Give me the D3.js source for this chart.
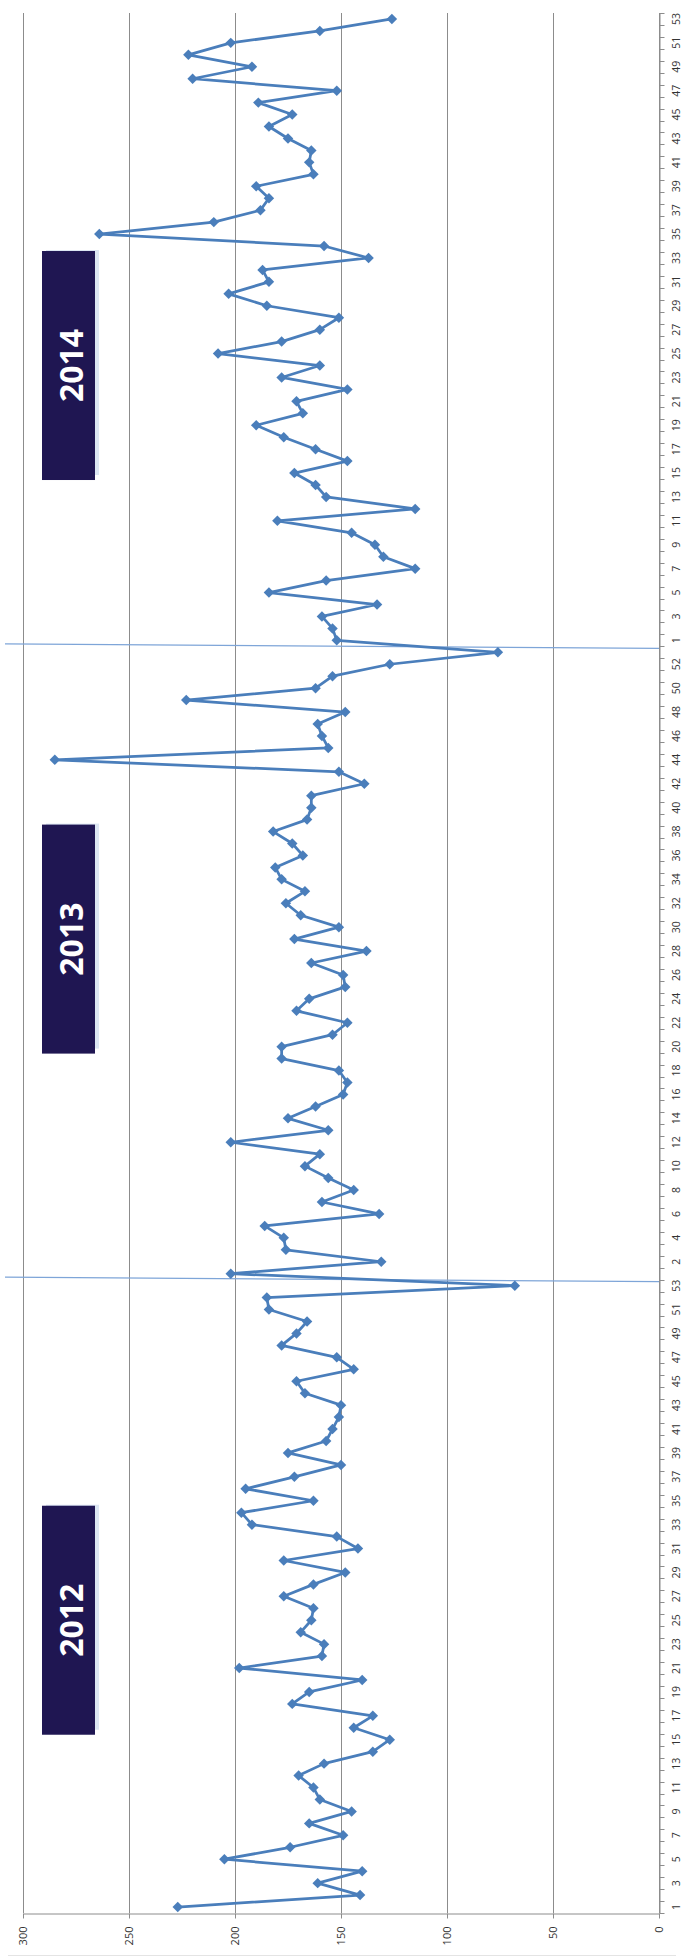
<!DOCTYPE html>
<html>
<head>
<meta charset="utf-8">
<script src="https://cdn.jsdelivr.net/npm/d3@7"></script>
<style>
  html, body { margin: 0; padding: 0; background: #ffffff; }
  svg { display: block; }
</style>
</head>
<body>
<div id="chart-container"></div>
<script>
// week numbers used on the category axis (every year has 53 weeks here)
const weekLabels = [
  1, 2, 3, 4, 5, 6, 7, 8, 9, 10, 11, 12, 13, 14, 15, 16, 17, 18, 19, 20,
  21, 22, 23, 24, 25, 26, 27, 28, 29, 30, 31, 32, 33, 34, 35, 36, 37, 38, 39, 40,
  41, 42, 43, 44, 45, 46, 47, 48, 49, 50, 51, 52, 53
];
const years = ["2012", "2013", "2014"];

const values2012 = [
  227, 141, 161, 140, 205, 174, 149, 165, 145, 160, 163, 170, 158, 135, 127, 144, 135, 173, 165, 140,
  198, 159, 158, 169, 164, 163, 177, 163, 148, 177, 142, 152, 192, 197, 163, 195, 172, 150, 175, 157,
  154, 151, 150, 167, 171, 144, 152, 178, 171, 166, 184, 185, 68
];
const values2013 = [
  202, 131, 176, 177, 186, 132, 159, 144, 156, 167, 160, 202, 156, 175, 162, 149, 147, 151, 178, 178,
  154, 147, 171, 165, 148, 149, 164, 138, 172, 151, 169, 176, 167, 178, 181, 168, 173, 182, 166, 164,
  164, 139, 151, 285, 156, 159, 161, 148, 223, 162, 154, 127, 76
];
const values2014 = [
  152, 154, 159, 133, 184, 157, 115, 130, 134, 145, 180, 115, 157, 162, 172, 147, 162, 177, 190, 168,
  171, 147, 178, 160, 208, 178, 160, 151, 185, 203, 184, 187, 137, 158, 264, 210, 188, 184, 190, 163,
  165, 164, 175, 184, 173, 189, 152, 220, 192, 222, 202, 160, 126
];
const valueTicks = [0, 50, 100, 150, 200, 250, 300];
// week of each year that the year label box is centred on
const yearLabelWeek = [25, 29, 24];

const seriesByYear = [values2012, values2013, values2014];
const rows = [];
years.forEach((yr, yi) => {
  seriesByYear[yi].forEach((v, i) => {
    rows.push({ id: yr + "-" + weekLabels[i], year: yr, week: weekLabels[i], value: v });
  });
});

const width = 684;
const height = 1957;
const plot = { left: 23, right: 659, top: 13, bottom: 1913 };
const blue = "#4a7ebb";
const gridColor = "#8c8c8c";

const svg = d3
  .select("#chart-container")
  .append("svg")
  .attr("width", width)
  .attr("height", height);

// chart is drawn turned on its side: values run right-to-left, weeks bottom-to-top
const x = d3.scaleLinear().domain([0, 300]).range([plot.right, plot.left]);
const y = d3
  .scaleBand()
  .domain(rows.map((d) => d.id))
  .range([plot.bottom, plot.top]);
const bw = y.bandwidth();
const cy = (id) => y(id) + bw / 2;

// faint chart border at the bottom
svg
  .append("line")
  .attr("x1", 8)
  .attr("x2", 676)
  .attr("y1", height - 1.5)
  .attr("y2", height - 1.5)
  .style("stroke", "#e4e4e4")
  .style("stroke-width", 1);

// gridlines
svg
  .append("g")
  .selectAll("line")
  .data(valueTicks)
  .enter()
  .append("line")
  .attr("x1", (d) => Math.round(x(d)) + 0.5)
  .attr("x2", (d) => Math.round(x(d)) + 0.5)
  .attr("y1", plot.top)
  .attr("y2", plot.bottom)
  .style("stroke", gridColor)
  .style("stroke-width", 1);

// value axis (bottom)
const xAxis = svg
  .append("g")
  .attr("transform", `translate(0, ${plot.bottom + 0.5})`)
  .call(d3.axisBottom(x).tickValues(valueTicks).tickSize(5).tickSizeOuter(0).tickFormat(d3.format("d")));
xAxis.select(".domain").style("stroke", gridColor);
xAxis.selectAll(".tick line").style("stroke", gridColor);
xAxis
  .selectAll(".tick text")
  .attr("x", -13)
  .attr("y", 0)
  .attr("dy", "0.35em")
  .attr("transform", "rotate(-90)")
  .style("text-anchor", "end")
  .style("font-family", "'Open Sans', sans-serif")
  .style("font-size", "11px")
  .style("fill", "#333");

// category axis (right)
const yAxis = svg
  .append("g")
  .attr("transform", `translate(${plot.right + 0.5}, 0)`)
  .call(
    d3
      .axisRight(y)
      .tickSize(0)
      .tickSizeOuter(0)
      .tickFormat((d, i) => (i % 2 === 0 ? String(rows[i].week) : ""))
  );
yAxis.select(".domain").style("stroke", gridColor);
yAxis
  .selectAll(".tick text")
  .attr("x", 0)
  .attr("y", 0)
  .attr("dy", "0.35em")
  .attr("transform", "translate(17, 0) rotate(-90)")
  .style("text-anchor", "middle")
  .style("font-family", "'Open Sans', sans-serif")
  .style("font-size", "10.5px")
  .style("fill", "#333");

// tick marks between categories
yAxis
  .append("g")
  .selectAll("line")
  .data(rows.map((d) => y(d.id)).concat([plot.bottom]))
  .enter()
  .append("line")
  .attr("x1", 0)
  .attr("x2", 5)
  .attr("y1", (d) => Math.round(d) + 0.5)
  .attr("y2", (d) => Math.round(d) + 0.5)
  .style("stroke", gridColor)
  .style("stroke-width", 1);

// year labels
years.forEach((yr, yi) => {
  const c = cy(yr + "-" + yearLabelWeek[yi]);
  const boxH = 229;
  const g = svg.append("g");
  g.append("rect")
    .attr("x", 46)
    .attr("y", c - boxH / 2 - 1)
    .attr("width", 53)
    .attr("height", boxH - 4)
    .style("fill", "#dce6f3");
  g.append("rect")
    .attr("x", 42)
    .attr("y", c - boxH / 2)
    .attr("width", 53)
    .attr("height", boxH)
    .style("fill", "#1f1652");
  g.append("text")
    .attr("transform", `translate(72, ${c}) rotate(-90)`)
    .attr("dy", "0.35em")
    .style("text-anchor", "middle")
    .style("font-family", "'Open Sans', sans-serif")
    .style("font-weight", "bold")
    .style("font-size", "32px")
    .style("fill", "#ffffff")
    .text(yr);
});

// year separators (hand drawn in the original, slightly tilted)
const separators = years.slice(1).map((yr) => y(yr + "-" + weekLabels[0]) + bw);
svg
  .append("g")
  .selectAll("line")
  .data(separators)
  .enter()
  .append("line")
  .attr("x1", 5)
  .attr("x2", plot.right)
  .attr("y1", (d) => d - 2.5)
  .attr("y2", (d) => d + 2)
  .style("stroke", "#7ea5d8")
  .style("stroke-width", 1.3);

// series line
const lineGen = d3
  .line()
  .x((d) => x(d.value))
  .y((d) => cy(d.id));

svg
  .append("path")
  .datum(rows)
  .attr("d", lineGen)
  .style("fill", "none")
  .style("stroke", blue)
  .style("stroke-width", 2.75)
  .style("stroke-linejoin", "round");

// diamond markers
const diamond = d3.symbol().type(d3.symbolSquare).size(55);
svg
  .append("g")
  .selectAll("path")
  .data(rows)
  .enter()
  .append("path")
  .attr("d", diamond)
  .attr("transform", (d) => `translate(${x(d.value)}, ${cy(d.id)}) rotate(45)`)
  .style("fill", blue);
</script>
</body>
</html>
